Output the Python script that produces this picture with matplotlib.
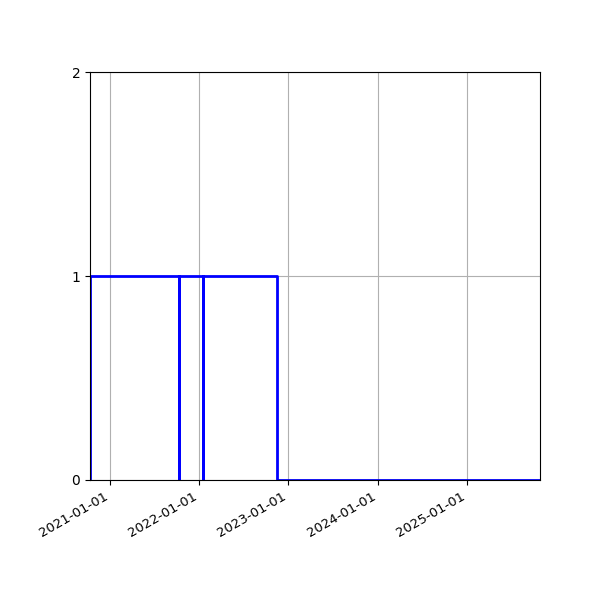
import matplotlib
matplotlib.use("Agg")
import matplotlib.pyplot as plt
import matplotlib.dates as mdates
import numpy as np

# change points of the status series (repeated dates = instant dips)
dates = np.array(["2020-10-11", "2020-10-11", "2021-10-10", "2021-10-10",
                  "2022-01-18", "2022-01-18", "2022-11-13", "2025-10-26"],
                 dtype="datetime64[D]")
values = [0, 1, 0, 1, 0, 1, 0, 0]

fig, ax = plt.subplots(figsize=(6, 6), dpi=100)
ax.plot(dates, values, drawstyle="steps-post", color="blue", linewidth=2)
ax.set_xlim(dates[0], dates[-1])
ax.set_ylim(0, 2)
ax.set_yticks([0, 1, 2])
ax.xaxis.set_major_locator(mdates.YearLocator())
ax.xaxis.set_major_formatter(mdates.DateFormatter("%Y-%m-%d"))
ax.tick_params(axis="x", labelsize=9.5)
ax.grid(True)
fig.autofmt_xdate()
fig.subplots_adjust(left=0.15, right=0.9, top=0.88, bottom=0.2)
fig.savefig("out.png")
